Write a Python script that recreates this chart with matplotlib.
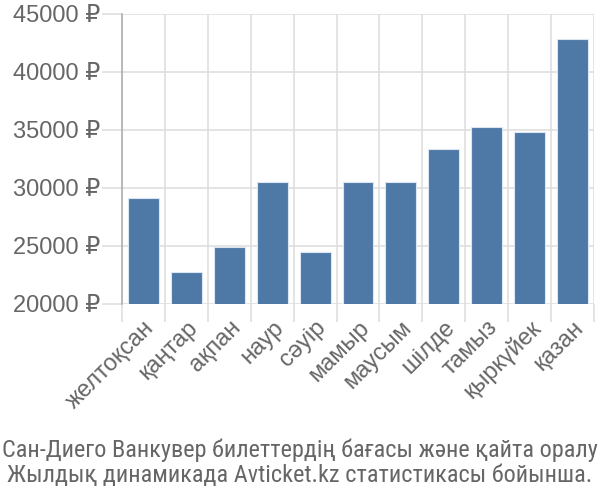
import matplotlib
matplotlib.use("Agg")
import matplotlib.pyplot as plt
import matplotlib.transforms as mtransforms
import numpy as np

months = ["желтоқсан", "қаңтар", "ақпан", "наур", "сәуір", "мамыр",
          "маусым", "шілде", "тамыз", "қыркүйек", "қазан"]
prices = [29160, 22730, 24910, 30520, 24460, 30520, 30520, 33340, 35230, 34800, 42845]
yticks = [20000, 25000, 30000, 35000, 40000, 45000]
ytick_labels = [f"{v} ₽" for v in yticks]
caption = ("Сан-Диего Ванкувер билеттердің бағасы және қайта оралу\n"
           "Жылдық динамикада Avticket.kz статистикасы бойынша.")

plt.rcParams['font.family'] = ['Liberation Sans', 'DejaVu Sans']

fig = plt.figure(figsize=(6, 5), dpi=100)
ax = fig.add_axes([122/600, 1-304/500, (594-122)/600, (304-14)/500])

x = np.arange(len(months))
ax.bar(x, prices, width=0.72, color="#4e79a7", edgecolor="#dbe6f2", linewidth=0.8, zorder=3)

ax.set_xlim(-0.5, len(months)-0.5)
ax.set_ylim(20000, 45000)
ax.set_yticks(yticks)
ax.set_yticklabels(ytick_labels, fontsize=17, color="#666666")
ax.set_xticks(x)
ax.set_xticklabels(months, rotation=45, ha="right", va="top", rotation_mode="anchor",
                   fontsize=17, color="#666666")
ax.set_xticks(np.arange(len(months)+1)-0.5, minor=True)

offset = mtransforms.ScaledTranslation(-5/100, -1/100, fig.dpi_scale_trans)
for lbl in ax.get_xticklabels():
    lbl.set_transform(lbl.get_transform() + offset)

gc = "#dddddd"
ax.grid(True, axis="y", which="major", color=gc, linewidth=1.1, zorder=0)
ax.grid(True, axis="x", which="minor", color=gc, linewidth=1.1, zorder=0)
ax.grid(False, axis="x", which="major")
ax.tick_params(axis="x", which="major", length=0, pad=9)
ax.tick_params(axis="x", which="minor", length=13, color=gc, width=1.1)
ax.tick_params(axis="y", length=14.4, color=gc, width=1.1, pad=1.5)

for s in ["top", "right"]:
    ax.spines[s].set_visible(False)
ax.spines["bottom"].set_visible(False)
ax.spines["left"].set_color("#aaaaaa")
ax.spines["left"].set_linewidth(1.1)

fig.text(0.5, 1-482/500, caption, ha="center", va="baseline", fontsize=17.5,
         color="#666666", linespacing=1.13,
         family=['Roboto Condensed', 'DejaVu Sans'])

fig.savefig("out.png", dpi=100)
